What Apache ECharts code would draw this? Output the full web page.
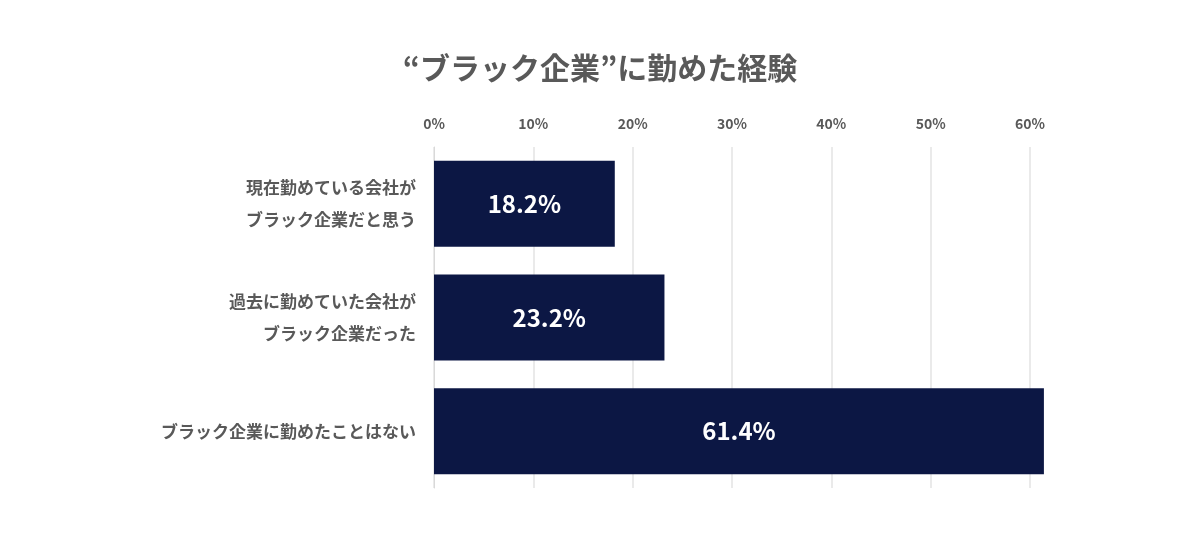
<!DOCTYPE html>
<html><head><meta charset="utf-8">
<script src="https://cdn.jsdelivr.net/npm/echarts@6/dist/echarts.min.js"></script>
<style>html,body{margin:0;background:#fff}#c{width:1200px;height:536px}</style>
</head><body><div id="c"></div>
<script>
const categories = ['現在勤めている会社が\nブラック企業だと思う', '過去に勤めていた会社が\nブラック企業だった', 'ブラック企業に勤めたことはない'];
const values = [18.2, 23.2, 61.4];
const chart = echarts.init(document.getElementById('c'));
const F = '"Noto Sans CJK JP", "Noto Sans", sans-serif';
chart.setOption({
  title: {text: '“ブラック企業”に勤めた経験', left: 'center', top: 48,
    textStyle: {fontFamily: F, fontSize: 30, fontWeight: 'bold', color: '#595959'}},
  grid: {left: 434, right: 170, top: 147, bottom: 48},
  xAxis: {type: 'value', position: 'top', min: 0, max: 60, interval: 10,
    axisLine: {show: false}, axisTick: {show: false},
    axisLabel: {formatter: '{value}%', color: '#595959', fontFamily: F, fontSize: 14, fontWeight: 'bold', margin: 16},
    splitLine: {lineStyle: {color: '#e3e3e3', width: 1.5}}},
  yAxis: {type: 'category', inverse: true, data: categories,
    axisLine: {lineStyle: {color: '#d9d9d9'}}, axisTick: {show: false},
    axisLabel: {color: '#595959', fontFamily: F, fontSize: 17, fontWeight: 'bold', lineHeight: 32, margin: 18}},
  series: [{type: 'bar', data: values, barWidth: 86, clip: false,
    itemStyle: {color: '#0c1744'},
    label: {show: true, position: 'inside', formatter: p => p.value.toFixed(1) + '%',
      color: '#fff', fontFamily: F, fontSize: 24, fontWeight: 'bold'}}]
});
</script></body></html>
